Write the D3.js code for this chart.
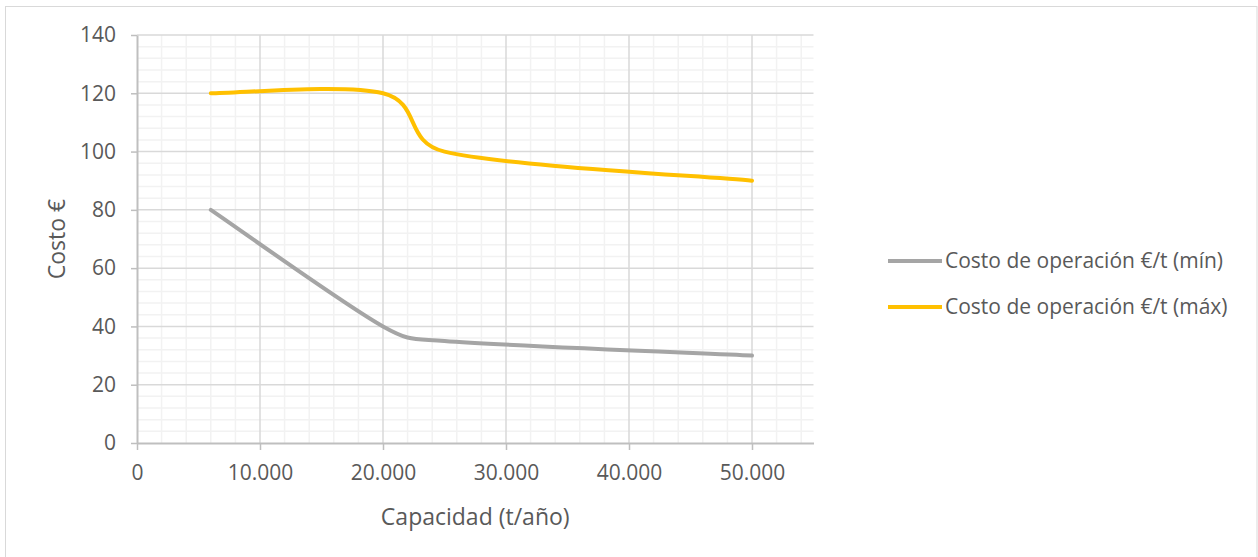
<!DOCTYPE html>
<html>
<head>
<meta charset="utf-8">
<script src="https://cdn.jsdelivr.net/npm/d3@7"></script>
<style>
  html, body { margin: 0; padding: 0; background: #fff; }
  svg { display: block; font-family: "Open Sans", "Noto Sans", sans-serif; }
</style>
</head>
<body>
<svg id="chart" width="1258" height="557"></svg>
<script>
// Capacity (t/año) at which each cost was estimated
const capacidad = [6000, 20000, 25000, 50000];
// Operating cost €/t, lower and upper estimate
const costoMin = [80, 40, 35, 30];
const costoMax = [120, 120, 100, 90];

const seriesNames = ["Costo de operación €/t (mín)", "Costo de operación €/t (máx)"];
const seriesColors = ["#a5a5a5", "#ffc000"];

const xTicks = [0, 10000, 20000, 30000, 40000, 50000];
const yTicks = [0, 20, 40, 60, 80, 100, 120, 140];

const svg = d3.select("#chart");
const W = 1258, H = 557;

// outer chart frame
svg.append("rect")
  .attr("x", 5.5).attr("y", 6.5)
  .attr("width", W - 6.5).attr("height", H + 10)
  .attr("fill", "none").attr("stroke", "#d9d9d9").attr("stroke-width", 1);

const plot = { left: 137, right: 813.5, top: 35, bottom: 443 };

const x = d3.scaleLinear().domain([0, 55000]).range([plot.left, plot.right]);
const y = d3.scaleLinear().domain([0, 140]).range([plot.bottom, plot.top]);

const fmt = v => d3.format(",")(v).replace(/,/g, ".");

// minor gridlines
const g = svg.append("g");
g.selectAll("line.xminor")
  .data(d3.range(2000, 55001, 2000).filter(v => v % 10000 !== 0))
  .join("line")
  .attr("x1", d => x(d)).attr("x2", d => x(d))
  .attr("y1", plot.top).attr("y2", plot.bottom)
  .attr("stroke", "#f2f2f2").attr("stroke-width", 1.5);
g.selectAll("line.yminor")
  .data(d3.range(4, 141, 4).filter(v => v % 20 !== 0))
  .join("line")
  .attr("x1", plot.left).attr("x2", plot.right)
  .attr("y1", d => y(d)).attr("y2", d => y(d))
  .attr("stroke", "#f2f2f2").attr("stroke-width", 1.5);

// major gridlines
g.selectAll("line.xmajor")
  .data(xTicks.filter(v => v > 0))
  .join("line")
  .attr("x1", d => x(d)).attr("x2", d => x(d))
  .attr("y1", plot.top).attr("y2", plot.bottom)
  .attr("stroke", "#d9d9d9").attr("stroke-width", 1.5);
g.selectAll("line.ymajor")
  .data(yTicks.filter(v => v > 0))
  .join("line")
  .attr("x1", plot.left).attr("x2", plot.right)
  .attr("y1", d => y(d)).attr("y2", d => y(d))
  .attr("stroke", "#d9d9d9").attr("stroke-width", 1.5);

// axes
const xAxis = d3.axisBottom(x).tickValues(xTicks).tickFormat(fmt).tickSizeInner(7).tickSizeOuter(0).tickPadding(15);
const yAxis = d3.axisLeft(y).tickValues(yTicks).tickSizeInner(6).tickSizeOuter(0).tickPadding(15);

const gx = svg.append("g").attr("transform", `translate(0,${plot.bottom})`).call(xAxis);
const gy = svg.append("g").attr("transform", `translate(${plot.left},0)`).call(yAxis);

[gx, gy].forEach(a => {
  a.select(".domain").attr("stroke", "#bfbfbf").attr("stroke-width", 2);
  a.selectAll(".tick line").attr("stroke", "#bfbfbf").attr("stroke-width", 1.5);
  a.selectAll(".tick text").attr("fill", "#595959")
    .style("font-size", "21px").style("font-family", "'Open Sans', sans-serif");
});

// Smoothed line: cubic Bezier segments whose control points follow the
// neighbouring points (1/6 of the chord), capped at half the segment length.
function smoothPath(pts) {
  const p = d3.path();
  const n = pts.length;
  const dist = (a, b) => Math.hypot(b[0] - a[0], b[1] - a[1]);
  p.moveTo(pts[0][0], pts[0][1]);
  for (let i = 0; i < n - 1; i++) {
    const p0 = pts[Math.max(i - 1, 0)], p1 = pts[i], p2 = pts[i + 1], p3 = pts[Math.min(i + 2, n - 1)];
    const d12 = dist(p1, p2);
    let t1 = [(p2[0] - p0[0]) / 6, (p2[1] - p0[1]) / 6];
    let t2 = [(p3[0] - p1[0]) / 6, (p3[1] - p1[1]) / 6];
    const l1 = Math.hypot(t1[0], t1[1]), l2 = Math.hypot(t2[0], t2[1]);
    if (l1 > d12 / 2) t1 = t1.map(v => v * (d12 / 2) / l1);
    if (l2 > d12 / 2) t2 = t2.map(v => v * (d12 / 2) / l2);
    p.bezierCurveTo(p1[0] + t1[0], p1[1] + t1[1], p2[0] - t2[0], p2[1] - t2[1], p2[0], p2[1]);
  }
  return p.toString();
}

[costoMin, costoMax].forEach((vals, i) => {
  const pts = capacidad.map((c, k) => [x(c), y(vals[k])]);
  svg.append("path")
    .attr("d", smoothPath(pts))
    .attr("fill", "none")
    .attr("stroke", seriesColors[i])
    .attr("stroke-width", 4)
    .attr("stroke-linecap", "round")
    .attr("stroke-linejoin", "round");
});

// axis titles
svg.append("text")
  .attr("x", (plot.left + plot.right) / 2).attr("y", 525)
  .attr("text-anchor", "middle")
  .attr("fill", "#595959").style("font-size", "23px")
  .text("Capacidad (t/año)");

svg.append("text")
  .attr("transform", `translate(65,${(plot.top + plot.bottom) / 2}) rotate(-90)`)
  .attr("text-anchor", "middle")
  .attr("fill", "#595959").style("font-size", "23px")
  .text("Costo €");

// legend
const legend = svg.append("g");
const legendY = [261, 307];
seriesNames.forEach((name, i) => {
  legend.append("line")
    .attr("x1", 888).attr("x2", 942)
    .attr("y1", legendY[i]).attr("y2", legendY[i])
    .attr("stroke", seriesColors[i]).attr("stroke-width", 4);
  legend.append("text")
    .attr("x", 945).attr("y", legendY[i])
    .attr("dy", "0.35em")
    .attr("fill", "#595959").style("font-size", "21px")
    .text(name);
});
</script>
</body>
</html>
